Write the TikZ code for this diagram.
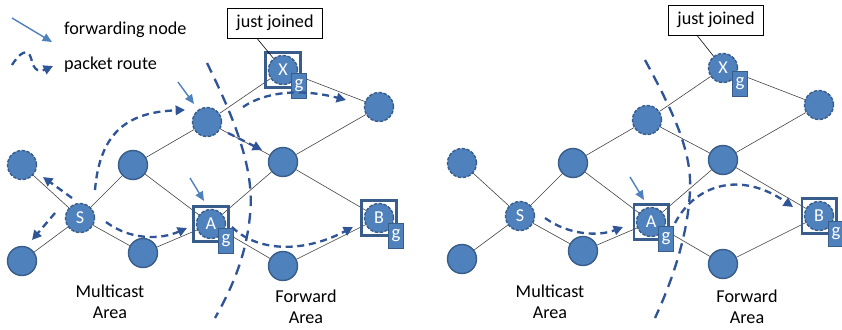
\documentclass[tikz,border=0pt]{standalone}
\usepackage{fontspec}
\setmainfont{Carlito}
\usetikzlibrary{arrows.meta}

\definecolor{nodeblue}{HTML}{4F81BD}
\definecolor{nodeline}{HTML}{385D8A}
\definecolor{routeblue}{HTML}{2F5597}
\definecolor{edgegray}{HTML}{404040}

\tikzset{
	host/.style={circle, fill=nodeblue, draw=nodeline, line width=1.2pt, minimum size=0.87cm, inner sep=0pt, text=white, font=\fontsize{15.5}{18}\selectfont},
	dhost/.style={host, dash pattern=on 3pt off 1.2pt},
	edge/.style={draw=edgegray, line width=0.5pt},
	route/.style={draw=routeblue, line width=2pt, dash pattern=on 6pt off 4pt, -{Triangle[length=8pt,width=8pt]}},
	fwd/.style={draw=nodeblue, line width=1.2pt, -{Triangle[length=8pt,width=7pt]}},
	border/.style={draw=routeblue, line width=2pt, dash pattern=on 9pt off 6pt},
	gwbox/.style={rectangle, draw=nodeline, line width=2pt, minimum size=1.04cm, inner sep=0pt},
	gtag/.style={rectangle, fill=nodeblue, draw=nodeline, line width=1.2pt, minimum width=0.45cm, minimum height=0.75cm, inner sep=0pt, text=white, font=\fontsize{16}{18}\selectfont},
	callout/.style={rectangle, draw=black, fill=white, line width=0.6pt, minimum width=2.85cm, minimum height=0.9cm, inner sep=2pt, font=\fontsize{15.5}{18}\selectfont},
	area/.style={align=center, font=\fontsize{15.5}{18}\selectfont},
	legend/.style={anchor=west, font=\fontsize{15.5}{18}\selectfont}
}

\begin{document}
\begin{tikzpicture}[x=0.03cm, y=-0.03cm]
	\useasboundingbox (0,0) rectangle (842,329);
	
	%%%%% NETWORK (both panels) %%%%%
	\foreach \p/\dx/\dy in {l/0/0, r/440/-2} {
		\begin{scope}[shift={(\dx,\dy)}]
			\node[dhost] (\p-tl) at (22,165) {};
			\node[host] (\p-bl) at (22,261) {};
			\node[dhost] (\p-s) at (80,218) {S};
			\node[host] (\p-um) at (133,165) {};
			\node[host] (\p-lm) at (143,253) {};
			\node[dhost] (\p-a) at (211,224) {A};
			\node[dhost] (\p-up) at (207,122) {};
			\node[dhost] (\p-x) at (283,70) {X};
			\node[dhost] (\p-rt) at (379,107) {};
			\node[host] (\p-mid) at (283,162) {};
			\node[dhost] (\p-b) at (379,218) {B};
			\node[host] (\p-bot) at (283,266) {};
		\end{scope}
		\foreach \u/\v in {tl/s, bl/s, s/um, s/lm, um/a, lm/a, um/up, up/x, up/mid, a/mid, a/bot, x/rt, rt/mid, mid/b, bot/b}
			\draw[edge] (\p-\u) -- (\p-\v);
	}
	
	%%%%% LEGEND %%%%%
	\node[legend] (fwdtext) at (60,30) {forwarding node};
	\node[legend] (routetext) at (60,65) {packet route};
	\draw[fwd] ([shift={(-48,-12)}]fwdtext.west) -- ([shift={(-8,12)}]fwdtext.west);
	\draw[route] ([shift={(-48,0)}]routetext.west) .. controls ([shift={(-40,-13)}]routetext.west) and ([shift={(-32,-17)}]routetext.west) .. ([shift={(-29,-7)}]routetext.west) .. controls ([shift={(-26,7)}]routetext.west) and ([shift={(-20,7)}]routetext.west) .. ([shift={(-7,1)}]routetext.west);
	
	%%%%% LEFT PANEL %%%%%
	\node[gwbox] (l-xbox) at (l-x) {};
	\node[gwbox] (l-abox) at (l-a) {};
	\node[gwbox] (l-bbox) at (l-b) {};
	\node[gtag] (l-xg) at ([shift={(16,16)}]l-x) {g};
	\node[gtag] (l-ag) at ([shift={(15,17)}]l-a) {g};
	\node[gtag] (l-bg) at ([shift={(17,18)}]l-b) {g};
	
	\node[callout] (l-join) at (275,23) {just joined};
	\draw[edge, draw=black] ([shift={(-18,0)}]l-join.south) -- (l-x);
	
	\draw[border] (207,63) .. controls (235,120) and (255,170) .. (250,215) .. controls (246,260) and (228,295) .. (215,318);
	
	\draw[fwd] ([shift={(-29,-40)}]l-up.center) -- ([shift={(-13,-18)}]l-up.center);
	\draw[fwd] ([shift={(-21,-46)}]l-a.center) -- ([shift={(-7,-23)}]l-a.center);
	
	\draw[route] ([shift={(-8,-20)}]l-s.center) -- ([shift={(21,12)}]l-tl.center);
	\draw[route] ([shift={(-25,-5)}]l-s.center) -- ([shift={(10,-21)}]l-bl.center);
	\draw[route] ([shift={(26,4)}]l-s.center) .. controls (130,240) and (160,240) .. ([shift={(-24,4)}]l-a.center);
	\draw[route] ([shift={(15,-28)}]l-s.center) .. controls (100,130) and (130,112) .. ([shift={(-22,-12)}]l-up.center);
	\draw[route] ([shift={(21,11)}]l-up.center) -- ([shift={(-21,-12)}]l-mid.center);
	\draw[route] ([shift={(36,-15)}]l-up.center) .. controls (265,92) and (300,88) .. ([shift={(-33,-7)}]l-rt.center);
	\draw[route] ([shift={(21,3)}]l-a.center) .. controls (255,250) and (300,255) .. ([shift={(-26,9)}]l-b.center);
	
	\node[area] (l-multi) at (110,302) {Multicast\\Area};
	\node[area] (l-forward) at (306,307) {Forward\\Area};
	
	%%%%% RIGHT PANEL %%%%%
	\node[gwbox] (r-abox) at (r-a) {};
	\node[gwbox] (r-bbox) at (r-b) {};
	\node[gtag] (r-xg) at ([shift={(17,16)}]r-x) {g};
	\node[gtag] (r-ag) at ([shift={(15,17)}]r-a) {g};
	\node[gtag] (r-bg) at ([shift={(17,18)}]r-b) {g};
	
	\node[callout] (r-join) at (716,20) {just joined};
	\draw[edge, draw=black] ([shift={(-19,0)}]r-join.south) -- (r-x);
	
	\draw[border] (645,60) .. controls (672,110) and (692,150) .. (690,190) .. controls (688,240) and (668,290) .. (655,318);
	
	\draw[fwd] ([shift={(-21,-45)}]r-a.center) -- ([shift={(-7,-22)}]r-a.center);
	
	\draw[route] ([shift={(25,2)}]r-s.center) .. controls (570,236) and (600,236) .. ([shift={(-28,5)}]r-a.center);
	\draw[route] ([shift={(24,1)}]r-a.center) .. controls (695,185) and (740,170) .. ([shift={(-26,-9)}]r-b.center);
	
	\node[area] (r-multi) at (550,302) {Multicast\\Area};
	\node[area] (r-forward) at (747,307) {Forward\\Area};
\end{tikzpicture}
\end{document}
